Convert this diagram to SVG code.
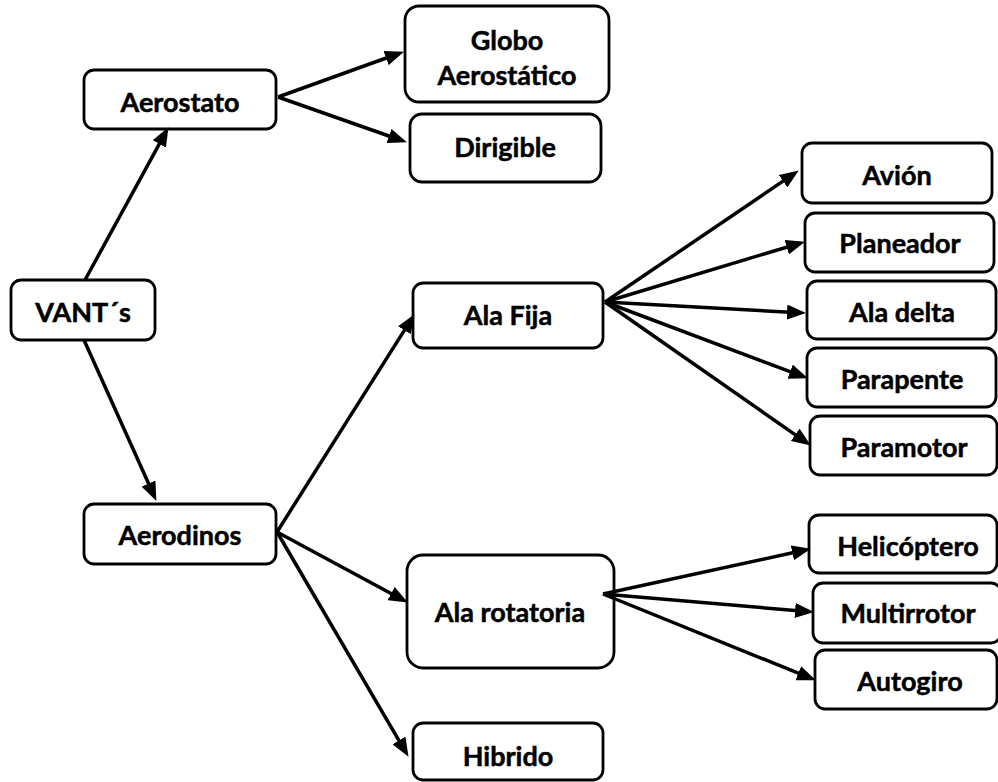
<svg xmlns="http://www.w3.org/2000/svg" width="998" height="782" viewBox="0 0 998 782">
  <style>
    .box { fill: #ffffff; stroke: #000000; stroke-width: 2.8; }
    .lbl { font-family: "Lato", "Open Sans", "Liberation Sans", sans-serif; font-weight: bold; font-size: 27px; fill: #000000; stroke: #000000; stroke-width: 0.5; text-anchor: middle; }
    .link { stroke: #000000; stroke-width: 3.5; fill: none; marker-end: url(#head); }
  </style>
  <defs>
    <marker id="head" markerUnits="userSpaceOnUse" markerWidth="19" markerHeight="15" refX="12" refY="7.5" orient="auto">
      <path d="M0,0 L19,7.5 L0,15 Z" fill="#000000"/>
    </marker>
  </defs>
  <rect width="998" height="782" fill="#ffffff"/>

  <!-- nodes -->
  <g id="vants">
    <rect class="box" x="11" y="280" width="144" height="60" rx="10"/>
    <text class="lbl" x="83" y="322">VANT´s</text>
  </g>
  <g id="aerostato">
    <rect class="box" x="84" y="70" width="192" height="59" rx="10"/>
    <text class="lbl" x="180" y="112">Aerostato</text>
  </g>
  <g id="globo">
    <rect class="box" x="405" y="6" width="204" height="96" rx="14"/>
    <text class="lbl" x="507" y="50">Globo</text>
    <text class="lbl" x="507" y="85">Aerostático</text>
  </g>
  <g id="dirigible">
    <rect class="box" x="410" y="114" width="191" height="68" rx="12"/>
    <text class="lbl" x="505" y="157">Dirigible</text>
  </g>
  <g id="aerodinos">
    <rect class="box" x="84" y="504" width="192" height="60" rx="10"/>
    <text class="lbl" x="180" y="545">Aerodinos</text>
  </g>
  <g id="ala-fija">
    <rect class="box" x="413" y="283" width="190" height="65" rx="10"/>
    <text class="lbl" x="508" y="325">Ala Fija</text>
  </g>
  <g id="ala-rotatoria">
    <rect class="box" x="407" y="555" width="207" height="113" rx="16"/>
    <text class="lbl" x="510" y="622">Ala rotatoria</text>
  </g>
  <g id="hibrido">
    <rect class="box" x="413" y="723" width="190" height="57" rx="10"/>
    <text class="lbl" x="508" y="766">Hibrido</text>
  </g>
  <g id="avion">
    <rect class="box" x="802" y="143" width="190" height="60" rx="10"/>
    <text class="lbl" x="897" y="185">Avión</text>
  </g>
  <g id="planeador">
    <rect class="box" x="805" y="213" width="189" height="59" rx="10"/>
    <text class="lbl" x="900" y="253">Planeador</text>
  </g>
  <g id="ala-delta">
    <rect class="box" x="807" y="281" width="189" height="58" rx="10"/>
    <text class="lbl" x="902" y="322">Ala delta</text>
  </g>
  <g id="parapente">
    <rect class="box" x="807" y="348" width="189" height="59" rx="10"/>
    <text class="lbl" x="902" y="389">Parapente</text>
  </g>
  <g id="paramotor">
    <rect class="box" x="810" y="416" width="187" height="59" rx="10"/>
    <text class="lbl" x="904" y="457">Paramotor</text>
  </g>
  <g id="helicoptero">
    <rect class="box" x="809" y="515" width="188" height="58" rx="10"/>
    <text class="lbl" x="908" y="556">Helicóptero</text>
  </g>
  <g id="multirrotor">
    <rect class="box" x="813" y="583" width="188" height="60" rx="10"/>
    <text class="lbl" x="908" y="623">Multirrotor</text>
  </g>
  <g id="autogiro">
    <rect class="box" x="815" y="650" width="182" height="59" rx="10"/>
    <text class="lbl" x="910" y="691">Autogiro</text>
  </g>

  <!-- connectors -->
  <g id="connectors">
    <line class="link" x1="85" y1="280" x2="165.1" y2="133.3"/>
    <line class="link" x1="84" y1="340" x2="153.5" y2="494.5"/>
    <line class="link" x1="278" y1="97" x2="397.4" y2="54"/>
    <line class="link" x1="278" y1="97" x2="400.3" y2="140"/>
    <line class="link" x1="277" y1="532" x2="410.8" y2="320.1"/>
    <line class="link" x1="277" y1="532" x2="401.7" y2="599.2"/>
    <line class="link" x1="277" y1="532" x2="405" y2="750.8"/>
    <line class="link" x1="605" y1="302" x2="793" y2="174.4"/>
    <line class="link" x1="605" y1="302" x2="798.3" y2="243.7"/>
    <line class="link" x1="605" y1="302" x2="799" y2="312.7"/>
    <line class="link" x1="605" y1="302" x2="801.4" y2="375.9"/>
    <line class="link" x1="605" y1="302" x2="805.1" y2="441.6"/>
    <line class="link" x1="603" y1="594" x2="804.1" y2="550.3"/>
    <line class="link" x1="603" y1="594" x2="807" y2="611.5"/>
    <line class="link" x1="603" y1="594" x2="809.4" y2="677.7"/>
  </g>
</svg>
